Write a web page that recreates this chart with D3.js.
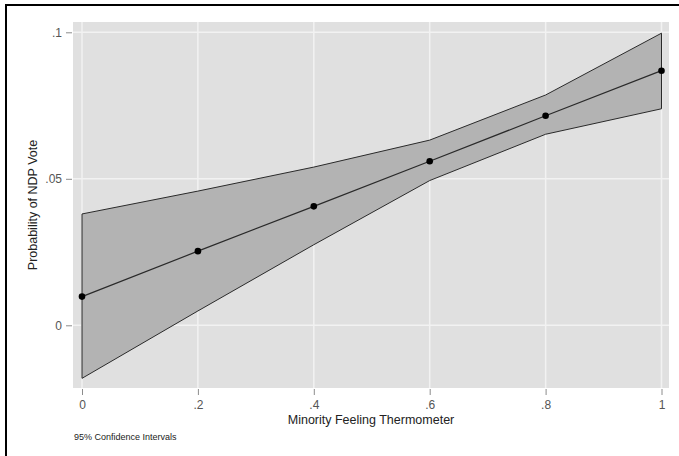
<!DOCTYPE html>
<html>
<head>
<meta charset="utf-8">
<script src="https://cdn.jsdelivr.net/npm/d3@7"></script>
<style>
  body { margin: 0; background: #fff; }
  svg { display: block; font-family: "Liberation Sans", Arial, sans-serif; }
</style>
</head>
<body>
<div id="chart"></div>
<script>
// valeurs
const thermo = [0, 0.2, 0.4, 0.6, 0.8, 1];
const probNDP = [0.0098, 0.0253, 0.0406, 0.0560, 0.0715, 0.0869];
const ciUpper = [0.0380, 0.0458, 0.0540, 0.0632, 0.0786, 0.0997];
const ciLower = [-0.0181, 0.0049, 0.0275, 0.0494, 0.0652, 0.0739];
const xTicks = [0, 0.2, 0.4, 0.6, 0.8, 1];
const yTicks = [0, 0.05, 0.1];

const W = 679, H = 456;
const plot = { left: 73, right: 669, top: 22, bottom: 388 };

const svg = d3.select("#chart").append("svg").attr("width", W).attr("height", H);

// cadre noir (coupe a droite et en bas)
svg.append("rect")
  .attr("x", 6).attr("y", 5)
  .attr("width", W + 10).attr("height", H + 10)
  .attr("fill", "none").attr("stroke", "#000").attr("stroke-width", 2);

const x = d3.scaleLinear().domain([0, 1]).range([82, 661.5]);
const y = d3.scaleLinear().domain([0, 0.1]).range([325.3, 32.3]);

const fmt = d => d === 0 ? "0" : (d === 1 ? "1" : String(d).replace(/^0/, ""));

// fond gris
svg.append("rect")
  .attr("x", plot.left).attr("y", plot.top)
  .attr("width", plot.right - plot.left).attr("height", plot.bottom - plot.top)
  .attr("fill", "#e0e0e0");

// grille
svg.append("g").selectAll("line").data(xTicks).join("line")
  .attr("x1", d => x(d)).attr("x2", d => x(d))
  .attr("y1", plot.top).attr("y2", plot.bottom)
  .attr("stroke", "#f2f2f2").attr("stroke-width", 1.5);
svg.append("g").selectAll("line").data(yTicks).join("line")
  .attr("y1", d => y(d)).attr("y2", d => y(d))
  .attr("x1", plot.left).attr("x2", plot.right)
  .attr("stroke", "#f2f2f2").attr("stroke-width", 1.5);

// bande de confiance
const rows = thermo.map((t, i) => ({ t: t, m: probNDP[i], lo: ciLower[i], hi: ciUpper[i] }));
svg.append("path").datum(rows)
  .attr("d", d3.area().x(d => x(d.t)).y0(d => y(d.lo)).y1(d => y(d.hi)))
  .attr("fill", "#b3b3b3").attr("stroke", "#2a2a2a").attr("stroke-width", 1);

// ligne + points
svg.append("path").datum(rows)
  .attr("d", d3.line().x(d => x(d.t)).y(d => y(d.m)))
  .attr("fill", "none").attr("stroke", "#2a2a2a").attr("stroke-width", 1.2);
svg.append("g").selectAll("circle").data(rows).join("circle")
  .attr("cx", d => x(d.t)).attr("cy", d => y(d.m)).attr("r", 3.3).attr("fill", "#000");

// axes
const xAxis = d3.axisBottom(x).tickValues(xTicks).tickFormat(fmt).tickSize(6).tickPadding(5);
const gx = svg.append("g").attr("transform", "translate(0," + (plot.bottom + 1) + ")").call(xAxis);
gx.select(".domain").remove();
gx.selectAll("line").attr("stroke", "#8c8c8c");
gx.selectAll("text").attr("fill", "#555").attr("font-size", 12).attr("font-family", "Liberation Sans, Arial, sans-serif");

const yAxis = d3.axisLeft(y).tickValues(yTicks).tickFormat(fmt).tickSize(6).tickPadding(4);
const gy = svg.append("g").attr("transform", "translate(" + (plot.left - 1) + ",0)").call(yAxis);
gy.select(".domain").remove();
gy.selectAll("line").attr("stroke", "#8c8c8c");
gy.selectAll("text").attr("fill", "#555").attr("font-size", 12).attr("font-family", "Liberation Sans, Arial, sans-serif");

// titres
svg.append("text")
  .attr("x", (plot.left + plot.right) / 2).attr("y", 424)
  .attr("text-anchor", "middle").attr("font-size", 12.5).attr("fill", "#222")
  .text("Minority Feeling Thermometer");
svg.append("text")
  .attr("transform", "translate(37," + ((plot.top + plot.bottom) / 2) + ") rotate(-90)")
  .attr("text-anchor", "middle").attr("font-size", 12.5).attr("fill", "#222")
  .text("Probability of NDP Vote");
svg.append("text")
  .attr("x", 74).attr("y", 440)
  .attr("font-size", 9).attr("fill", "#222")
  .text("95% Confidence Intervals");
</script>
</body>
</html>
